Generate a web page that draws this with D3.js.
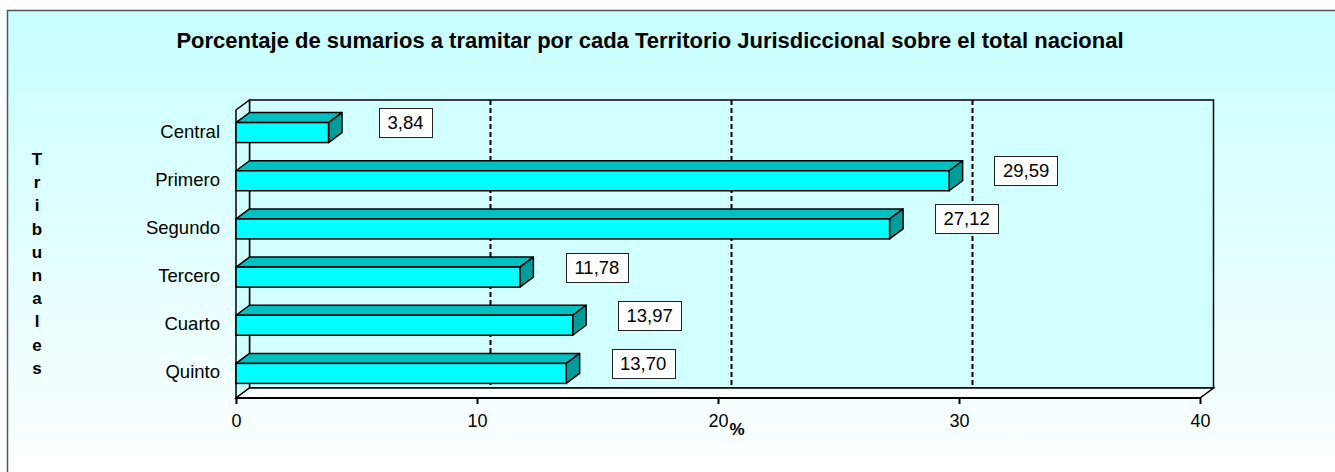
<!DOCTYPE html>
<html>
<head>
<meta charset="utf-8">
<script src="https://cdn.jsdelivr.net/npm/d3@7/dist/d3.min.js"></script>
<style>
  html, body { margin: 0; padding: 0; background: #fff; }
  svg { display: block; font-family: "Liberation Sans", Arial, sans-serif; }
</style>
</head>
<body>
<svg id="chart" width="1335" height="472"></svg>
<script>
const categories = ["Central", "Primero", "Segundo", "Tercero", "Cuarto", "Quinto"];
const values = [3.84, 29.59, 27.12, 11.78, 13.97, 13.70];
const valueLabels = ["3,84", "29,59", "27,12", "11,78", "13,97", "13,70"];
const xTicks = [0, 10, 20, 30, 40];
const gridValues = [10, 20, 30];
const title = "Porcentaje de sumarios a tramitar por cada Territorio Jurisdiccional sobre el total nacional";
const yTitle = "Tribunales";
const xTitle = "%";

const W = 1335, H = 472;
const svg = d3.select("#chart");

// background gradient
const defs = svg.append("defs");
const grad = defs.append("linearGradient").attr("id", "bg").attr("x1", 0).attr("y1", 0).attr("x2", 0).attr("y2", 1);
grad.append("stop").attr("offset", "0%").attr("stop-color", "#C8FFFF");
grad.append("stop").attr("offset", "100%").attr("stop-color", "#FFFFFF");

svg.append("rect").attr("x", 7.5).attr("y", 10.5).attr("width", W + 10).attr("height", H + 10)
  .attr("fill", "url(#bg)").attr("stroke", "#555").attr("stroke-width", 1.5);

// 3D geometry
const dx = 13.5, dy = -10;
const front = { left: 236, right: 1200, top: 110, bottom: 398 };
const x = d3.scaleLinear().domain([0, 40]).range([front.left, front.right]);
const y = d3.scaleBand().domain(categories).range([108.5, 397.5]).paddingInner(0.585).paddingOuter(0.2925);

const g = svg.append("g");

// back wall
g.append("rect")
  .attr("x", x(0) + dx).attr("y", front.top + dy)
  .attr("width", x(40) - x(0)).attr("height", front.bottom - front.top)
  .attr("fill", "#D2FFFF").attr("stroke", "#000").attr("stroke-width", 1.5);

// left wall
g.append("path")
  .attr("d", `M${x(0)},${front.top} L${x(0)+dx},${front.top+dy} L${x(0)+dx},${front.bottom+dy} L${x(0)},${front.bottom} Z`)
  .attr("fill", "#D2FFFF").attr("stroke", "#000").attr("stroke-width", 1.5);

// floor
g.append("path")
  .attr("d", `M${x(0)},${front.bottom} L${x(0)+dx},${front.bottom+dy} L${x(40)+dx},${front.bottom+dy} L${x(40)},${front.bottom} Z`)
  .attr("fill", "#FAFFFF").attr("stroke", "#000").attr("stroke-width", 1.5);

// gridlines on back wall
g.selectAll("line.grid").data(gridValues).join("line")
  .attr("class", "grid")
  .attr("x1", d => x(d) + dx).attr("x2", d => x(d) + dx)
  .attr("y1", front.top + dy).attr("y2", front.bottom + dy)
  .attr("stroke", "#000").attr("stroke-width", 2).attr("stroke-dasharray", "5,3");

// bars
const bars = g.selectAll("g.bar").data(categories).join("g").attr("class", "bar");
bars.each(function(c, i) {
  const sel = d3.select(this);
  const x0 = x(0), x1 = x(values[i]);
  const y0 = y(c), h = y.bandwidth();
  sel.append("path")
    .attr("d", `M${x0},${y0} L${x0+dx},${y0+dy} L${x1+dx},${y0+dy} L${x1},${y0} Z`)
    .attr("fill", "#00C0C0").attr("stroke", "#000").attr("stroke-width", 1.5).attr("stroke-linejoin", "round");
  sel.append("path")
    .attr("d", `M${x1},${y0} L${x1+dx},${y0+dy} L${x1+dx},${y0+h+dy} L${x1},${y0+h} Z`)
    .attr("fill", "#009C9C").attr("stroke", "#000").attr("stroke-width", 1.5).attr("stroke-linejoin", "round");
  sel.append("rect")
    .attr("x", x0).attr("y", y0).attr("width", x1 - x0).attr("height", h)
    .attr("fill", "#00FFFF").attr("stroke", "#000").attr("stroke-width", 1.5);
});

// front axis line
g.append("line").attr("x1", x(0)).attr("x2", x(40)).attr("y1", front.bottom).attr("y2", front.bottom)
  .attr("stroke", "#000").attr("stroke-width", 2);

// x axis
const xAxis = d3.axisBottom(x).tickValues(xTicks).tickSize(6).tickPadding(10).tickFormat(d3.format("d"));
const ax = svg.append("g").attr("transform", `translate(0,${front.bottom})`).call(xAxis);
ax.select(".domain").remove();
ax.selectAll(".tick line").attr("stroke", "#000").attr("stroke-width", 2);
ax.selectAll(".tick text").attr("font-size", 18).attr("fill", "#000")
  .attr("font-family", "Liberation Sans, Arial, sans-serif");

// y axis labels
const yAxis = d3.axisLeft(y).tickSize(0).tickPadding(0);
const ay = svg.append("g").attr("transform", `translate(${front.left - 16},${-1})`).call(yAxis);
ay.select(".domain").remove();
ay.selectAll(".tick text").attr("font-size", 18.5).attr("fill", "#000")
  .attr("font-family", "Liberation Sans, Arial, sans-serif");

// value labels
const labels = svg.selectAll("g.vlabel").data(categories).join("g").attr("class", "vlabel");
labels.each(function(c, i) {
  const sel = d3.select(this);
  const cx = x(values[i]) + 77;
  const cy = y(c) + y.bandwidth() / 2 - 10;
  const t = sel.append("text").attr("x", cx).attr("y", cy).attr("text-anchor", "middle")
    .attr("dominant-baseline", "central").attr("font-size", 18.5).attr("fill", "#000")
    .text(valueLabels[i]);
  const bb = t.node().getBBox();
  sel.insert("rect", "text")
    .attr("x", Math.round(bb.x - 8.5) + 0.5).attr("y", Math.round(cy - 14.5) + 0.5)
    .attr("width", Math.round(bb.width + 17)).attr("height", 29)
    .attr("fill", "#fff").attr("stroke", "#222").attr("stroke-width", 1);
});

// title
svg.append("text").attr("x", 650).attr("y", 48).attr("text-anchor", "middle")
  .attr("font-size", 22).attr("font-weight", "bold").attr("fill", "#000").text(title);

// x title
svg.append("text").attr("x", 737).attr("y", 435).attr("text-anchor", "middle")
  .attr("font-size", 17).attr("font-weight", "bold").attr("fill", "#000").text(xTitle);

// y title (stacked letters)
svg.append("g").selectAll("text").data(yTitle.split("")).join("text")
  .attr("x", 37).attr("y", (d, i) => 165 + i * 23.2).attr("text-anchor", "middle")
  .attr("font-size", 17).attr("font-weight", "bold").attr("fill", "#000").text(d => d);
</script>
</body>
</html>
